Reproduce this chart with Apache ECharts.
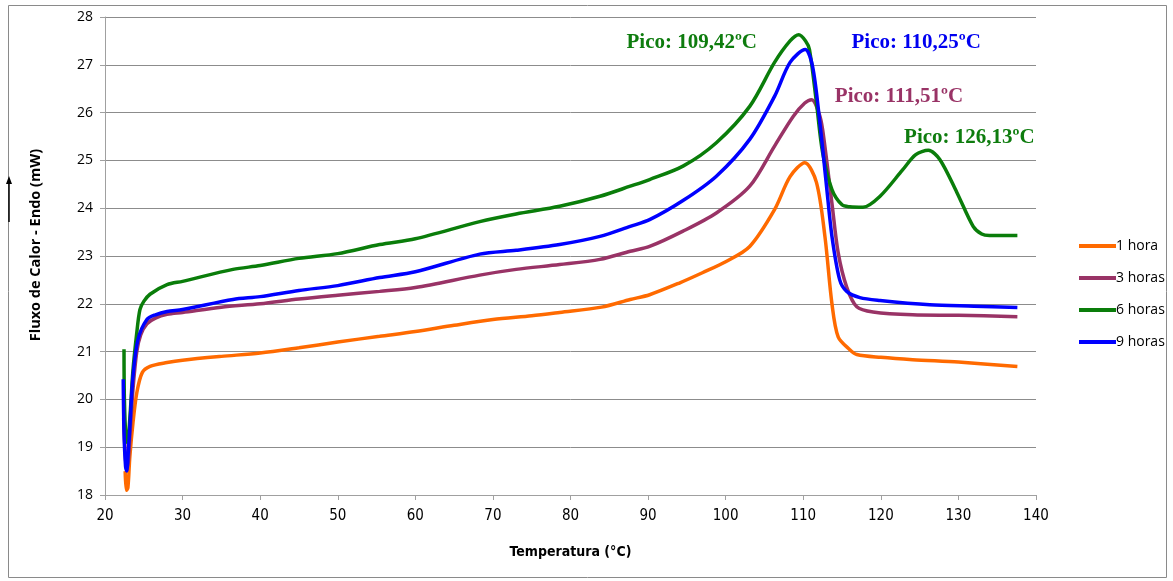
<!DOCTYPE html>
<html>
<head>
<meta charset="utf-8">
<script src="https://cdn.jsdelivr.net/npm/echarts@6/dist/echarts.min.js"></script>
<style>
html,body{margin:0;padding:0;background:#fff;}
#c{width:1173px;height:581px;}
</style>
</head>
<body>
<div id="c"></div>
<script>
// ---- data ----
const seriesNames = ['1 hora', '3 horas', '6 horas', '9 horas'];
const xTicks = [20, 30, 40, 50, 60, 70, 80, 90, 100, 110, 120, 130, 140];
const yTicks = [18, 19, 20, 21, 22, 23, 24, 25, 26, 27, 28];

const temp1h = [22.6, 22.75, 22.95, 23.2, 23.6, 24.1, 24.8, 25.8, 28, 30, 35, 40, 45, 50, 55.4, 60, 65, 70, 75, 78.6, 84, 87.7, 90.2, 94.1, 97, 100, 103.1, 106.3, 108.3, 110.2, 111.7, 112.8, 113.7, 114.5, 116, 116.9, 120, 124.1, 130, 137.6];
const flux1h = [18.5, 18.1, 18.15, 18.8, 19.5, 20.14, 20.56, 20.69, 20.77, 20.82, 20.9, 20.97, 21.08, 21.2, 21.32, 21.42, 21.55, 21.67, 21.75, 21.82, 21.93, 22.09, 22.19, 22.44, 22.65, 22.88, 23.2, 23.97, 24.66, 24.95, 24.54, 23.4, 22.0, 21.31, 21.04, 20.94, 20.88, 20.83, 20.78, 20.69];

const temp3h = [22.4, 22.7, 22.9, 23.2, 23.6, 24.1, 24.6, 25.4, 26.5, 28, 30, 35, 40, 45, 50, 55.4, 60, 68.3, 73, 78.6, 83.8, 87.7, 90.2, 94.5, 98.8, 103.1, 106.3, 108.7, 110.2, 111.1, 112, 112.5, 113.7, 114.5, 115.6, 116.9, 119, 124.1, 130, 137.6];
const flux3h = [19.6, 18.65, 18.6, 19.2, 20.2, 21.0, 21.35, 21.58, 21.7, 21.78, 21.82, 21.93, 22.0, 22.1, 22.18, 22.26, 22.34, 22.6, 22.72, 22.82, 22.93, 23.1, 23.2, 23.52, 23.9, 24.46, 25.3, 25.92, 26.2, 26.27, 26.0, 25.64, 24.1, 23.07, 22.35, 21.94, 21.83, 21.77, 21.76, 21.73];

const temp6h = [22.45, 22.5, 22.7, 22.9, 23.2, 23.6, 24.1, 24.5, 25.0, 25.8, 28, 30, 36.5, 40, 45, 50, 55.4, 60, 68.3, 73, 78.6, 83.8, 87.7, 90.2, 94.5, 98.8, 103.1, 106.3, 108.3, 109.42, 110.3, 110.8, 111.7, 112.5, 113.7, 115, 116, 117.7, 119.9, 122.8, 124.5, 126.13, 127.6, 129.8, 131.9, 133, 134, 137.6];
const flux6h = [21.05, 20.0, 19.2, 19.1, 19.6, 20.6, 21.4, 21.88, 22.05, 22.2, 22.4, 22.47, 22.72, 22.8, 22.95, 23.05, 23.24, 23.36, 23.72, 23.88, 24.04, 24.25, 24.46, 24.6, 24.88, 25.37, 26.13, 27.05, 27.5, 27.63, 27.5, 27.32, 26.21, 25.16, 24.39, 24.07, 24.03, 24.02, 24.25, 24.8, 25.12, 25.21, 25.02, 24.33, 23.62, 23.46, 23.43, 23.43];

const temp9h = [22.35, 22.45, 22.65, 22.8, 23.0, 23.2, 23.6, 24.25, 25.4, 26.5, 28, 30, 36.5, 40, 45, 50, 55.4, 60, 68.3, 73, 78.6, 83.8, 87.7, 90.2, 94.5, 98.8, 103.1, 106.3, 108.3, 110.25, 111.2, 112.1, 113, 113.7, 114.7, 115.6, 117.3, 119.9, 126.3, 132, 137.6];
const flux9h = [20.42, 19.3, 18.6, 18.5, 18.9, 19.42, 20.47, 21.25, 21.67, 21.77, 21.84, 21.88, 22.09, 22.15, 22.28, 22.38, 22.55, 22.67, 23.04, 23.12, 23.24, 23.41, 23.62, 23.76, 24.16, 24.67, 25.44, 26.34, 27.05, 27.32, 26.97, 25.85, 24.46, 23.41, 22.5, 22.26, 22.13, 22.07, 21.98, 21.95, 21.92];

// peak annotations
const peaks = [
  {series: 2, t: 109.42, f: 27.63, text: 'Pico: 109,42ºC', off: [-107, 8]},
  {series: 3, t: 110.25, f: 27.32, text: 'Pico: 110,25ºC', off: [111, -7]},
  {series: 1, t: 111.51, f: 26.27, text: 'Pico: 111,51ºC', off: [84, -3]},
  {series: 2, t: 126.13, f: 25.21, text: 'Pico: 126,13ºC', off: [41, -13]}
];

const colors = ['#FF6A00', '#993366', '#0A7D0A', '#0000FF'];
const labelColors = ['#FF6A00', '#993366', '#0E7C0E', '#0000F0'];
const temps = [temp1h, temp3h, temp6h, temp9h];
const fluxes = [flux1h, flux3h, flux6h, flux9h];

const chart = echarts.init(document.getElementById('c'), null, {renderer: 'canvas'});

const series = seriesNames.map((name, i) => {
  const mp = peaks.filter(p => p.series === i).map(p => ({
    coord: [p.t, p.f],
    label: {
      show: true, formatter: p.text, offset: p.off, position: 'inside',
      color: labelColors[i], fontFamily: '"Liberation Serif", "Times New Roman", serif',
      fontWeight: 'bold', fontSize: 21
    }
  }));
  return {
    name: name,
    type: 'line',
    data: temps[i].map((t, k) => [t, fluxes[i][k]]),
    showSymbol: false,
    symbol: 'none',
    smooth: 0.3,
    lineStyle: {color: colors[i], width: 3.5},
    itemStyle: {color: colors[i]},
    z: 2 + i,
    markPoint: mp.length ? {
      symbol: 'rect', symbolSize: 1,
      itemStyle: {color: 'rgba(0,0,0,0)'},
      data: mp, silent: true, animation: false
    } : undefined
  };
});

chart.setOption({
  animation: false,
  backgroundColor: '#fff',
  grid: {left: 105, right: 137, top: 17, bottom: 86, containLabel: false, outerBoundsMode: 'none'},
  legend: {
    orient: 'vertical',
    left: 1074, top: 234,
    itemWidth: 37, itemHeight: 4, itemGap: 18,
    icon: 'rect',
    data: seriesNames,
    textStyle: {fontFamily: '"Open Sans", "Liberation Sans", sans-serif', fontSize: 14, color: '#000', padding: [0, 0, 0, -5]}
  },
  xAxis: {
    type: 'value', min: xTicks[0], max: xTicks[xTicks.length - 1], interval: 10,
    name: 'Temperatura (°C)', nameLocation: 'middle', nameGap: 50,
    nameTextStyle: {fontFamily: '"Liberation Sans Narrow", "DejaVu Sans Condensed", sans-serif', fontWeight: 'bold', fontSize: 14, color: '#000'},
    axisLine: {show: true, onZero: false, lineStyle: {color: '#a0a0a0', width: 1}},
    axisTick: {show: true, length: 5, inside: false, lineStyle: {color: '#a0a0a0'}},
    axisLabel: {margin: 14, fontFamily: '"Liberation Sans Narrow", "DejaVu Sans Condensed", sans-serif', fontSize: 15, color: '#000'},
    splitLine: {show: false}
  },
  yAxis: {
    type: 'value', min: yTicks[0], max: yTicks[yTicks.length - 1], interval: 1,
    axisLine: {show: true, lineStyle: {color: '#a0a0a0', width: 1}},
    axisTick: {show: true, length: 5, inside: false, lineStyle: {color: '#a0a0a0'}},
    axisLabel: {margin: 12, fontFamily: '"Open Sans", "Liberation Sans", sans-serif', fontSize: 14, color: '#000'},
    splitLine: {show: true, lineStyle: {color: '#8c8c8c', width: 1}}
  },
  graphic: [
    {type: 'rect', shape: {x: 8.5, y: 5.5, width: 1158, height: 572}, style: {fill: 'none', stroke: '#8a8a8a', lineWidth: 1}, z: -1, silent: true},
    {type: 'line', shape: {x1: 9, y1: 222, x2: 9, y2: 182}, style: {stroke: '#000', lineWidth: 1.5}},
    {type: 'polygon', shape: {points: [[9, 176], [6, 184], [12, 184]]}, style: {fill: '#000'}},
    {type: 'text', x: 36, y: 245, rotation: Math.PI / 2,
     style: {text: 'Fluxo de Calor - Endo (mW)', align: 'center', verticalAlign: 'middle',
             font: 'bold 14.5px "Open Sans", "Liberation Sans", sans-serif', fill: '#000'}}
  ],
  series: series
});
</script>
</body>
</html>
